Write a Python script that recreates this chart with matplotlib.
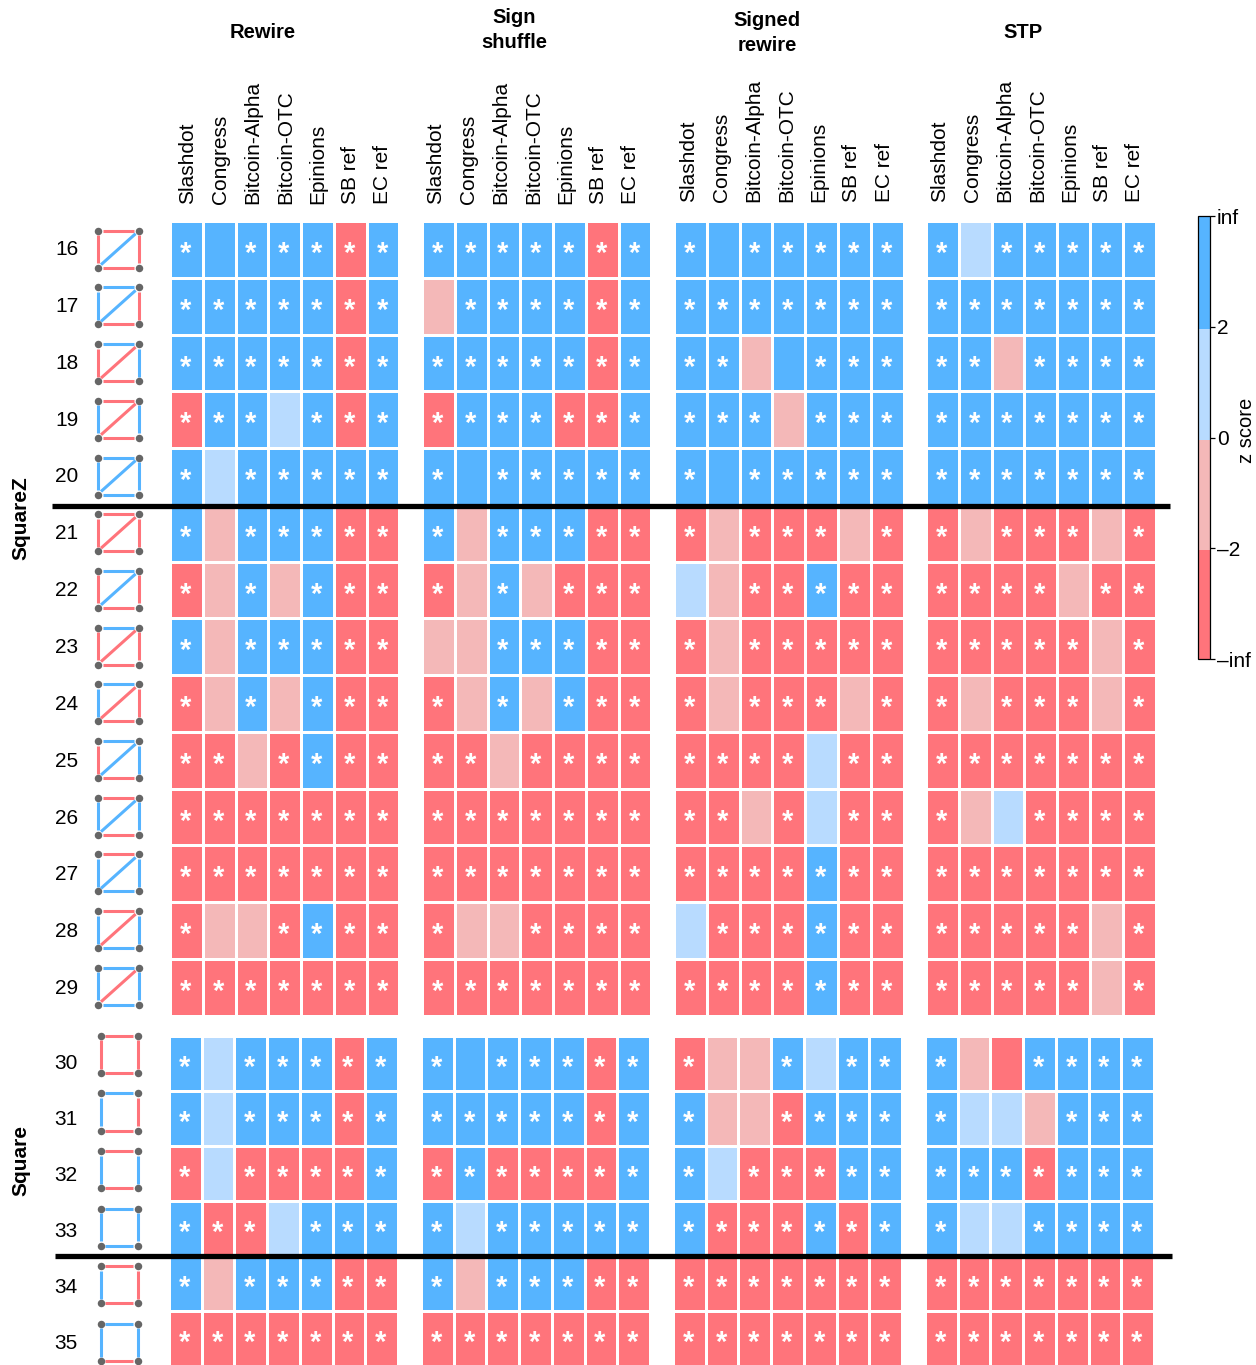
import matplotlib
matplotlib.use('Agg')
import matplotlib.pyplot as plt
from matplotlib.colors import ListedColormap, BoundaryNorm
from matplotlib.cm import ScalarMappable
from matplotlib.lines import Line2D
import numpy as np

plt.rcParams['font.family'] = ['Liberation Sans', 'DejaVu Sans']

W, H = 1256, 1365

networks = ['Slashdot', 'Congress', 'Bitcoin-Alpha', 'Bitcoin-OTC', 'Epinions', 'SB ref', 'EC ref']
nulls = ['Rewire', 'Sign\nshuffle', 'Signed\nrewire', 'STP']
rows_z = list(range(16, 30))
rows_s = list(range(30, 36))

# R strong red, r light red, b light blue, B strong blue; N and X are
# strong blue / strong red cells without a star
rewire_z = ['BNBBBRB', 'BBBBBRB', 'BBBBBRB', 'RBBbBRB', 'BbBBBBB', 'BrBBBRR', 'RrBrBRR',
            'BrBBBRR', 'RrBrBRR', 'RRrRBRR', 'RRRRRRR', 'RRRRRRR', 'RrrRBRR', 'RRRRRRR']
shuffle_z = ['BBBBBRB', 'rBBBBRB', 'BBBBBRB', 'RBBBRRB', 'BNBBBBB', 'BrBBBRR', 'RrBrRRR',
             'rrBBBRR', 'RrBrBRR', 'RRrRRRR', 'RRRRRRR', 'RRRRRRR', 'RrrRRRR', 'RRRRRRR']
signed_z = ['BNBBBBB', 'BBBBBBB', 'BBrNBBB', 'BBBrBBB', 'BNBBBBB', 'RrRRRrR', 'brRRBRR',
            'RrRRRRR', 'RrRRRrR', 'RRRRbRR', 'RRrRbRR', 'RRRRBRR', 'bRRRBRR', 'RRRRBRR']
stp_z = ['BbBBBBB', 'BBBBBBB', 'BBrBBBB', 'BBBBBBB', 'BBBBBBB', 'RrRRRrR', 'RRRRrRR',
         'RRRRRrR', 'RrRRRrR', 'RRRRRRR', 'RrbRRRR', 'RRRRRRR', 'RRRRRrR', 'RRRRRrR']

rewire_s = ['BbBBBRB', 'BbBBBRB', 'RbRRRRB', 'BRRbBBB', 'BrBBBRR', 'RRRRRRR']
shuffle_s = ['BNBBBRB', 'BBBBBRB', 'RBRRRRB', 'BbBBBBB', 'BrBBBRR', 'RRRRRRR']
signed_s = ['RrrBbBB', 'BrrRBBB', 'BbRRRBB', 'BRRRBRB', 'RRRRRRR', 'RRRRRRR']
stp_s = ['BrXBBBB', 'BbbrBBB', 'BBBRBBB', 'BbbBBBB', 'RRRRRRR', 'RRRRRRR']

# edge signs of each motif: top, left, right, bottom, diagonal
motifs_z = ['RRRRB', 'BBRRB', 'BRBRR', 'RBBRR', 'BBBBB', 'RRRRR', 'BRRRB',
            'BRRRR', 'BBRRR', 'BRBRB', 'RBBRB', 'RBBBB', 'RBBBR', 'BBBBR']
motifs_s = ['RRRR', 'BBRR', 'RBBR', 'BBBB', 'RBRR', 'BBBR']

BLUE = '#56B4FF'
LBLUE = '#B8DBFF'
LRED = '#F4B8B8'
RED = '#FF747B'
levels = {'R': 0, 'X': 0, 'r': 1, 'b': 2, 'B': 3, 'N': 3}
cmap = ListedColormap([RED, LRED, LBLUE, BLUE])
norm = BoundaryNorm([-0.5, 0.5, 1.5, 2.5, 3.5], 4)
edge_colors = {'R': RED, 'B': BLUE}


def px_axes(fig, x0, y0, x1, y1):
    # axes from pixel box, y measured from the top of the picture
    return fig.add_axes([x0 / W, 1 - y1 / H, (x1 - x0) / W, (y1 - y0) / H])


def draw_panel(fig, codes, box):
    ax = px_axes(fig, *box)
    grid = np.array([[levels[c] for c in row] for row in codes])
    ax.pcolormesh(grid, cmap=cmap, norm=norm, edgecolors='white', linewidth=1.8)
    ax.set_ylim(len(codes), 0)
    ax.axis('off')
    for i, row in enumerate(codes):
        for j, c in enumerate(row):
            if c not in 'NXrb':
                ax.text(j + 0.47, i + 0.53, '*', color='white', fontsize=21, fontweight='bold',
                        ha='center', va='center_baseline')


def draw_motif(fig, signs, cx, cy, half_w, half_h):
    ax = px_axes(fig, cx - half_w - 6, cy - half_h - 6, cx + half_w + 6, cy + half_h + 6)
    ax.set_xlim(-half_w - 6, half_w + 6)
    ax.set_ylim(-half_h - 6, half_h + 6)
    ax.axis('off')
    w, h = half_w, half_h
    g = 4.5
    lines = [((-w + g, w - g), (h, h)), ((-w, -w), (-h + g, h - g)), ((w, w), (-h + g, h - g)),
             ((-w + g, w - g), (-h, -h)), ((-w + 3, w - 3), (-h + 3, h - 3))]
    for s, (xs, ys) in zip(signs, lines):
        ax.plot(xs, ys, color=edge_colors[s], lw=2.2, solid_capstyle='butt')
    ax.plot([-w, w, -w, w], [-h, -h, h, h], 'o', color='#666666', ms=5.4, mew=0, zorder=5, clip_on=False)


fig = plt.figure(figsize=(W / 100, H / 100), dpi=100)

# heat map panels
top_x = [170, 422, 674, 926]
bot_x = [169, 421, 673, 925]
for x0, codes in zip(top_x, [rewire_z, shuffle_z, signed_z, stp_z]):
    draw_panel(fig, codes, (x0, 221, x0 + 229.5, 1015.5))
for x0, codes in zip(bot_x, [rewire_s, shuffle_s, signed_s, stp_s]):
    draw_panel(fig, codes, (x0, 1035.5, x0 + 229, 1366))

# network names above the columns
name_x = [188, 436, 689, 940]
name_y = [203.5, 203.5, 201.5, 202.5]
for x0, y0 in zip(name_x, name_y):
    for j, name in enumerate(networks):
        fig.text((x0 + j * 32.5) / W, 1 - y0 / H, name, rotation=90, fontsize=15,
                 ha='center', va='bottom')

# null model titles
title_x = [263, 514, 767, 1023]
title_y = [32, 30, 33, 32]
for x0, y0, t in zip(title_x, title_y, nulls):
    fig.text(x0 / W, 1 - y0 / H, t, fontsize=14.5, fontweight='bold', ha='center', va='center',
             linespacing=1.4)

# row labels and motifs
for i, (r, signs) in enumerate(zip(rows_z, motifs_z)):
    cy = 249.2 + i * 56.7
    fig.text(67 / W, 1 - (249.5 + i * 56.85) / H, str(r), fontsize=15, ha='center', va='center')
    draw_motif(fig, signs, 118.3, cy, 20.3, 18.5)
for i, (r, signs) in enumerate(zip(rows_s, motifs_s)):
    cy = 1054.4 + i * 57.6
    fig.text(66 / W, 1 - (1063.5 + i * 56) / H, str(r), fontsize=15, ha='center', va='center')
    draw_motif(fig, signs, 119.2, cy, 18.5, 18.6)

fig.text(21 / W, 1 - 518 / H, 'SquareZ', rotation=90, fontsize=15, fontweight='bold', ha='center', va='center')
fig.text(21 / W, 1 - 1161 / H, 'Square', rotation=90, fontsize=15, fontweight='bold', ha='center', va='center')

# thick separators
fig.add_artist(Line2D([52 / W, 1170 / W], [1 - 505.5 / H] * 2, color='black', lw=3.8, solid_capstyle='butt'))
fig.add_artist(Line2D([55 / W, 1172 / W], [1 - 1256 / H] * 2, color='black', lw=3.8, solid_capstyle='butt'))

# colour bar
cax = px_axes(fig, 1198, 216, 1210, 659)
cb_norm = BoundaryNorm([-4, -2, 0, 2, 4], 4)
cb = fig.colorbar(ScalarMappable(norm=cb_norm, cmap=cmap), cax=cax, spacing='uniform',
                  ticks=[-4, -2, 0, 2, 4])
cb.ax.set_yticklabels(['\u2013inf', '\u20132', '0', '2', 'inf'], fontsize=15)
cb.ax.tick_params(length=3.5, width=0.9, pad=1.5)
cb.outline.set_linewidth(0.9)
cb.solids.set_edgecolor('face')
fig.text(1247 / W, 1 - 430 / H, 'z score', rotation=90, fontsize=14.5, ha='center', va='center')

fig.savefig('out.png', dpi=100)
